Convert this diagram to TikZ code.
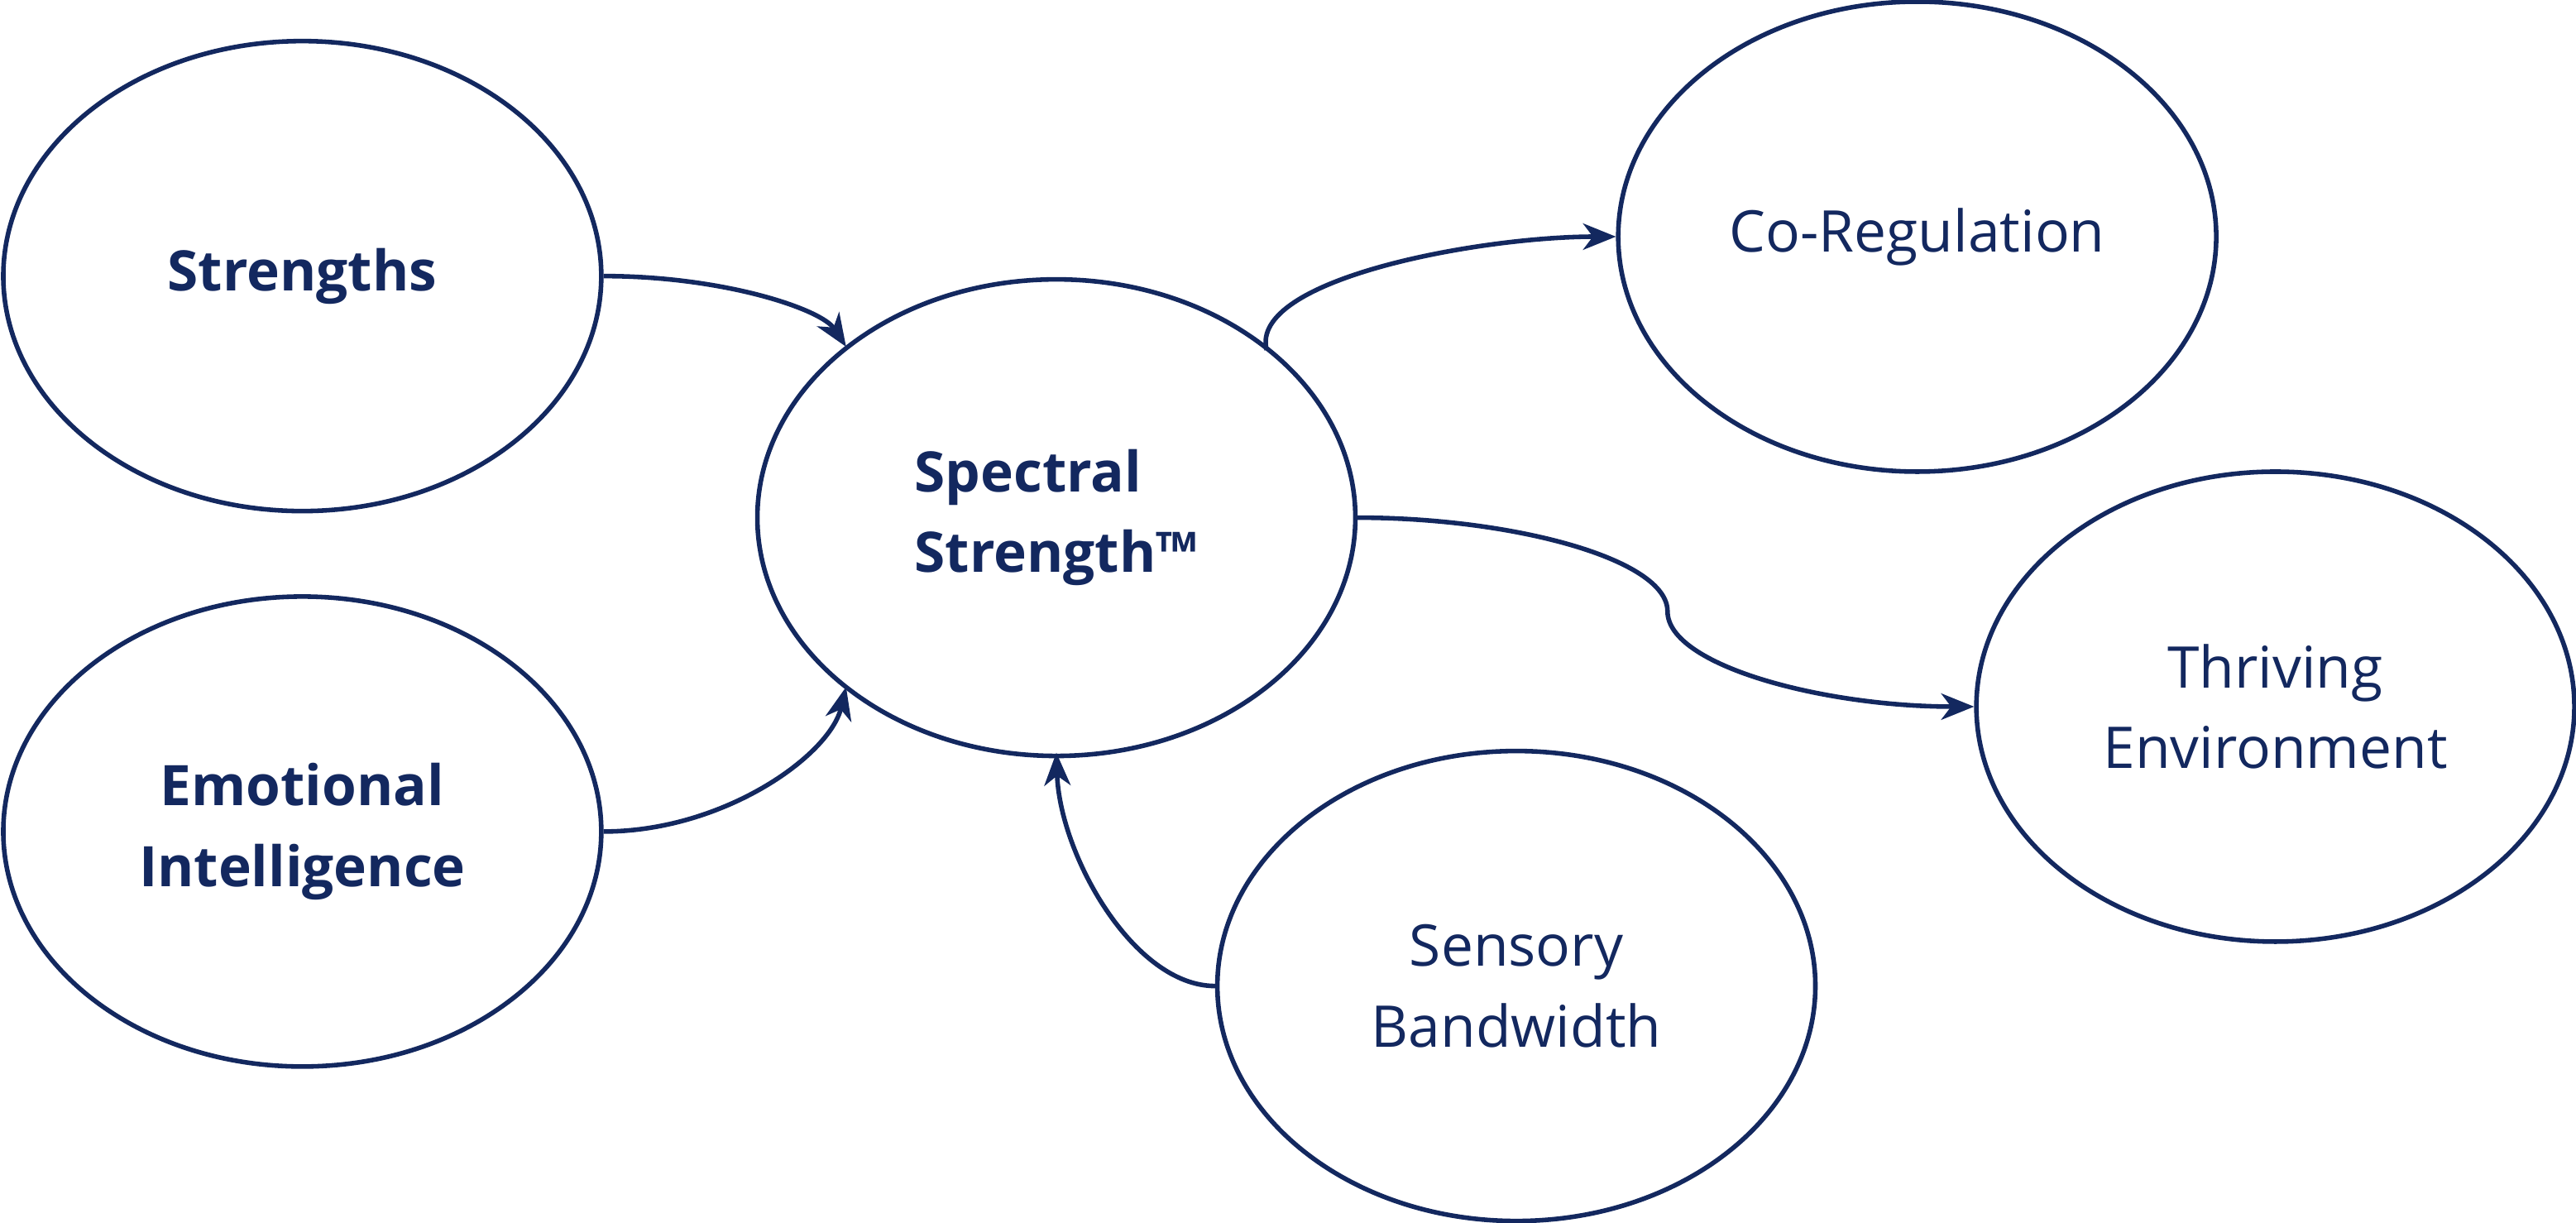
\documentclass[tikz,border=0pt]{standalone}
\usepackage{fontspec}
\setmainfont{Open Sans}
\usetikzlibrary{arrows.meta,shapes.geometric}
\definecolor{navy}{HTML}{13285F}
\begin{document}
\begin{tikzpicture}[x=1pt,y=-1pt,
  oval/.style={draw=navy,line width=2.8pt,ellipse,minimum width=364pt,minimum height=286pt,inner sep=0pt,align=center,font=\fontsize{35}{49}\selectfont,text=navy},
  bold/.style={font=\fontsize{34}{49}\selectfont\bfseries},
  con/.style={draw=navy,line width=2.8pt,-{Stealth[length=20pt,width=16pt,inset=6pt]}}]
\useasboundingbox (0,0) rectangle (1568,744);
\node[oval,bold] (s) at (184,168) {Strengths};
\node[oval,bold] (e) at (184,506) {Emotional\\Intelligence};
\node[oval,bold,minimum height=290pt,align=left] (sp) at (643,315) {Spectral\\Strength™};
\node[oval] (c) at (1167,144) {Co-Regulation};
\node[oval] (t) at (1385,430) {Thriving\\Environment};
\node[oval] (b) at (923,600) {Sensory\\Bandwidth};
\coordinate (a1) at (515,211);
\coordinate (a2) at (515,418);
\coordinate (a3) at (771,213);
\coordinate (a5) at (643,458);
\draw[con] (s.east) .. controls (440,168) and (500,188) .. (a1);
\draw[con] (e.east) .. controls (440,506) and (505,460) .. (a2);
\draw[con] (a3) .. controls (760,170) and (900,144) .. (c.west);
\draw[con] (sp.east) .. controls (920,315) and (1015,340) .. (1015,372) .. controls (1015,405) and (1110,430) .. (t.west);
\draw[con] (b.west) .. controls (690,600) and (645,520) .. (a5);
\end{tikzpicture}
\end{document}
